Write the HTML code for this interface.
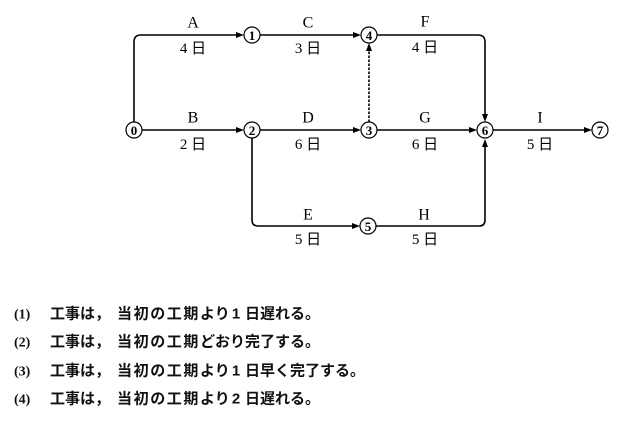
<!DOCTYPE html>
<html>
<head>
<meta charset="utf-8">
<style>
  html, body { margin:0; padding:0; background:#fff; }
  body { width:633px; height:434px; overflow:hidden; }
  svg { display:block; }
  .lbl { font-family:"Liberation Serif","Noto Serif CJK SC",serif; font-size:16px; fill:#000; }
  .day { font-family:"Liberation Serif","Noto Sans CJK JP",sans-serif; font-size:15px; fill:#000; }
  .num { font-family:"Liberation Serif",serif; font-size:13px; font-weight:bold; fill:#000; }
  .jp { font-family:"Liberation Sans","Noto Sans CJK JP",sans-serif; font-size:15px; font-weight:bold; fill:#111; }
  .pn { font-family:"Liberation Serif",serif; font-size:14px; font-weight:bold; fill:#111; }
</style>
</head>
<body>
<svg width="633" height="434" viewBox="0 0 633 434" xmlns="http://www.w3.org/2000/svg">
  <g fill="none" stroke="#000" stroke-width="1.6">
    <path d="M134,122 V42 Q134,35 141,35 H237"/>
    <path d="M142,130 H237"/>
    <path d="M260,35 H354"/>
    <path d="M260,130 H354"/>
    <path d="M369,122 V50" stroke-dasharray="2.5,1.5"/>
    <path d="M377,35 H478 Q485,35 485,42 V115"/>
    <path d="M377,130 H470"/>
    <path d="M493,130 H585"/>
    <path d="M252,138 V220 Q252,226 258,226 H353"/>
    <path d="M376,226 H479 Q485,226 485,220 V146"/>
  </g>
  <g fill="#000">
    <polygon points="244,35 236,32 236,38"/>
    <polygon points="244,130 236,127 236,133"/>
    <polygon points="361,35 353,32 353,38"/>
    <polygon points="361,130 353,127 353,133"/>
    <polygon points="369,43 366,51 372,51"/>
    <polygon points="485,122 482,114 488,114"/>
    <polygon points="477,130 469,127 469,133"/>
    <polygon points="592,130 584,127 584,133"/>
    <polygon points="360,226 352,223 352,229"/>
    <polygon points="485,139 482,147 488,147"/>
  </g>
  <g fill="#fff" stroke="#000" stroke-width="1.2">
    <circle cx="134" cy="130" r="8"/>
    <circle cx="252" cy="35" r="8"/>
    <circle cx="252" cy="130" r="8"/>
    <circle cx="369" cy="130" r="8"/>
    <circle cx="369" cy="35" r="8"/>
    <circle cx="368" cy="226" r="8"/>
    <circle cx="485" cy="130" r="8"/>
    <circle cx="600" cy="130" r="8"/>
  </g>
  <g class="num" text-anchor="middle" dominant-baseline="central">
    <text x="134" y="130.5">0</text>
    <text x="252" y="35.5">1</text>
    <text x="252" y="130.5">2</text>
    <text x="369" y="130.5">3</text>
    <text x="369" y="35.5">4</text>
    <text x="368" y="226.5">5</text>
    <text x="485" y="130.5">6</text>
    <text x="600" y="130.5">7</text>
  </g>
  <g class="lbl" text-anchor="middle" dominant-baseline="central">
    <text x="193" y="23">A</text>
    <text x="308" y="23">C</text>
    <text x="425" y="22">F</text>
    <text x="193" y="118">B</text>
    <text x="308" y="118">D</text>
    <text x="425" y="118">G</text>
    <text x="540" y="118">I</text>
    <text x="308" y="215">E</text>
    <text x="424" y="215">H</text>
  </g>
  <g class="day" text-anchor="middle" dominant-baseline="central">
    <text x="193" y="49">4 日</text>
    <text x="308" y="49">3 日</text>
    <text x="425" y="48">4 日</text>
    <text x="193" y="145">2 日</text>
    <text x="308" y="145">6 日</text>
    <text x="425" y="145">6 日</text>
    <text x="540" y="145">5 日</text>
    <text x="308" y="240">5 日</text>
    <text x="425" y="240">5 日</text>
  </g>

  <g dominant-baseline="central">
    <text class="pn" x="14" y="315">(1)</text>
    <text class="jp" x="50" y="314">工事は，</text>
    <text class="jp" x="117" y="314" letter-spacing="1.6">当初の工期</text>
    <text class="jp" x="200" y="314">より</text>
    <text class="jp" x="236" y="314" text-anchor="middle">1</text>
    <text class="jp" x="245" y="314">日遅れる。</text>

    <text class="pn" x="14" y="343">(2)</text>
    <text class="jp" x="50" y="342">工事は，</text>
    <text class="jp" x="117" y="342" letter-spacing="1.6">当初の工期</text>
    <text class="jp" x="200" y="342">どおり完了する。</text>

    <text class="pn" x="14" y="372">(3)</text>
    <text class="jp" x="50" y="371">工事は，</text>
    <text class="jp" x="117" y="371" letter-spacing="1.6">当初の工期</text>
    <text class="jp" x="200" y="371">より</text>
    <text class="jp" x="236" y="371" text-anchor="middle">1</text>
    <text class="jp" x="245" y="371">日早く完了する。</text>

    <text class="pn" x="14" y="400">(4)</text>
    <text class="jp" x="50" y="399">工事は，</text>
    <text class="jp" x="117" y="399" letter-spacing="1.6">当初の工期</text>
    <text class="jp" x="200" y="399">より</text>
    <text class="jp" x="236" y="399" text-anchor="middle">2</text>
    <text class="jp" x="245" y="399">日遅れる。</text>
  </g>
</svg>
</body>
</html>
